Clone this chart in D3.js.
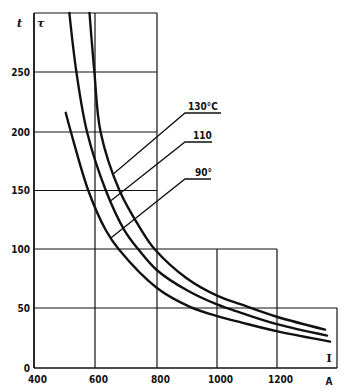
<!DOCTYPE html>
<html>
<head>
<meta charset="utf-8">
<script src="https://cdn.jsdelivr.net/npm/d3@7"></script>
<style>
  html, body { margin: 0; padding: 0; background: #fff; }
  svg { display: block; }
  .lbl { font-family: "Liberation Sans Narrow", "DejaVu Sans Condensed", "Arial Narrow", sans-serif; font-weight: bold; font-size: 10px; fill: #111; }
</style>
</head>
<body>
<svg id="chart" width="349" height="391"></svg>
<script>
// Operating time t (τ) versus current I (A) for three temperatures
const current130 = [582, 598, 618, 679, 750, 792, 900, 1004, 1080, 1202, 1360];
const time130    = [300, 250, 200, 150, 116, 100, 75, 60, 53, 42.5, 32];

const current110 = [516, 539, 574, 635, 695, 739, 800, 900, 1000, 1080, 1200, 1367];
const time110    = [300, 250, 200, 150, 116, 100, 82, 65, 53, 46, 36.5, 27];

const current90  = [504, 521, 578, 635, 676, 800, 910, 1004, 1080, 1202, 1377];
const time90     = [216, 200, 150, 116, 100, 67, 51, 43, 38, 30.5, 22];

const seriesLabels = ["130°C", "110", "90°"];

const xTicks = [400, 600, 800, 1000, 1200];
const yTicks = [0, 50, 100, 150, 200, 250];

// stepped outline of the grid: [current limit, time ceiling]
const gridSteps = [[800, 300], [1200, 100], [1400, 50]];

const svg = d3.select("#chart");
// the hand-ruled grid is slightly uneven, so both scales are piecewise linear
const x = d3.scaleLinear().domain([400, 600, 800, 1000, 1200, 1400]).range([34, 95, 157, 217, 277, 337]);
const y = d3.scaleLinear().domain([0, 50, 100, 150, 200, 250, 300]).range([368, 308, 249, 190.5, 132, 72, 13]);

const ink = "#111";

// widest step whose ceiling still covers t
const rightLimit = t => { let best = 400; gridSteps.forEach(([I, T]) => { if (t <= T) best = Math.max(best, I); }); return best; };
// highest ceiling among steps that contain I
const topLimit = I => { let best = 0; gridSteps.forEach(([lim, T]) => { if (I <= lim) best = Math.max(best, T); }); return best; };

const g = svg.append("g");

// horizontal grid lines
const hVals = [0, 50, 100, 150, 200, 250, 300];
g.selectAll("line.h").data(hVals).join("line")
  .attr("x1", x(400)).attr("x2", d => x(rightLimit(d)))
  .attr("y1", d => y(d)).attr("y2", d => y(d))
  .attr("stroke", ink).attr("stroke-width", d => d === 0 ? 1.6 : 1.2);

// vertical grid lines
const vVals = [400, 600, 800, 1000, 1200, 1400];
g.selectAll("line.v").data(vVals).join("line")
  .attr("x1", d => x(d)).attr("x2", d => x(d))
  .attr("y1", y(0)).attr("y2", d => y(topLimit(d)))
  .attr("stroke", ink).attr("stroke-width", d => d === 400 ? 1.8 : 1.2);

// axes used for tick labels only
const yAxis = d3.axisLeft(y).tickValues(yTicks).tickFormat(d3.format("d")).tickSize(0).tickPadding(4);
const ya = svg.append("g").attr("transform", `translate(${x(400)},0)`).call(yAxis);
ya.select(".domain").remove();
ya.selectAll("text").attr("class", "lbl").attr("font-size", null).attr("font-family", null);

const xAxis = d3.axisBottom(x).tickValues(xTicks).tickFormat(d3.format("d")).tickSize(0).tickPadding(8);
const xa = svg.append("g").attr("transform", `translate(0,${y(0)})`).call(xAxis);
xa.select(".domain").remove();
xa.selectAll("text").attr("class", "lbl").attr("dx", 3).attr("font-size", null).attr("font-family", null);

// curves
const series = [
  current130.map((c, i) => [c, time130[i]]),
  current110.map((c, i) => [c, time110[i]]),
  current90.map((c, i) => [c, time90[i]])
];
const line = d3.line().x(d => x(d[0])).y(d => y(d[1])).curve(d3.curveCatmullRom.alpha(0.5));
const paths = svg.selectAll("path.curve").data(series).join("path")
  .attr("class", "curve")
  .attr("d", line).attr("fill", "none")
  .attr("stroke", ink).attr("stroke-width", 2.4).attr("stroke-linecap", "round");

// point on a drawn curve at a given screen x
const pointAtX = (node, px) => {
  const len = node.getTotalLength();
  let lo = 0, hi = len;
  for (let k = 0; k < 40; k++) {
    const mid = (lo + hi) / 2;
    if (node.getPointAtLength(mid).x < px) lo = mid; else hi = mid;
  }
  return node.getPointAtLength((lo + hi) / 2);
};

// leader lines with labels
const leaderAt = [658, 649, 650];        // current where each leader meets its curve
const shelfY = [113, 142, 179];          // pixel height of each label shelf
const shelfEnd = [221, 212, 211];
const labelX = [188, 193, 195];
paths.each(function (pts, i) {
  const p = pointAtX(this, x(leaderAt[i]));
  const sx = 185, sy = shelfY[i];
  svg.append("path")
    .attr("d", `M${p.x},${p.y}L${sx},${sy}L${shelfEnd[i]},${sy}`)
    .attr("fill", "none").attr("stroke", ink).attr("stroke-width", 1.3);
  svg.append("text").attr("class", "lbl")
    .attr("x", labelX[i]).attr("y", sy - 3)
    .text(seriesLabels[i]);
});

// axis titles
svg.append("text").attr("x", 17).attr("y", 27)
  .attr("font-family", "DejaVu Serif, serif").attr("font-style", "italic").attr("font-weight", "bold")
  .attr("font-size", 11).attr("fill", ink).text("t");
svg.append("text").attr("x", 37).attr("y", 27)
  .attr("font-family", "DejaVu Serif, serif").attr("font-style", "italic").attr("font-weight", "bold")
  .attr("font-size", 11).attr("fill", ink).text("τ");
svg.append("text").attr("class", "lbl").attr("x", 329).attr("y", 385)
  .attr("text-anchor", "middle").text("A");
svg.append("text").attr("x", 329).attr("y", 362)
  .attr("text-anchor", "middle").attr("font-family", "DejaVu Serif, serif").attr("font-weight", "bold")
  .attr("font-size", 11).attr("fill", ink).text("I");
</script>
</body>
</html>
